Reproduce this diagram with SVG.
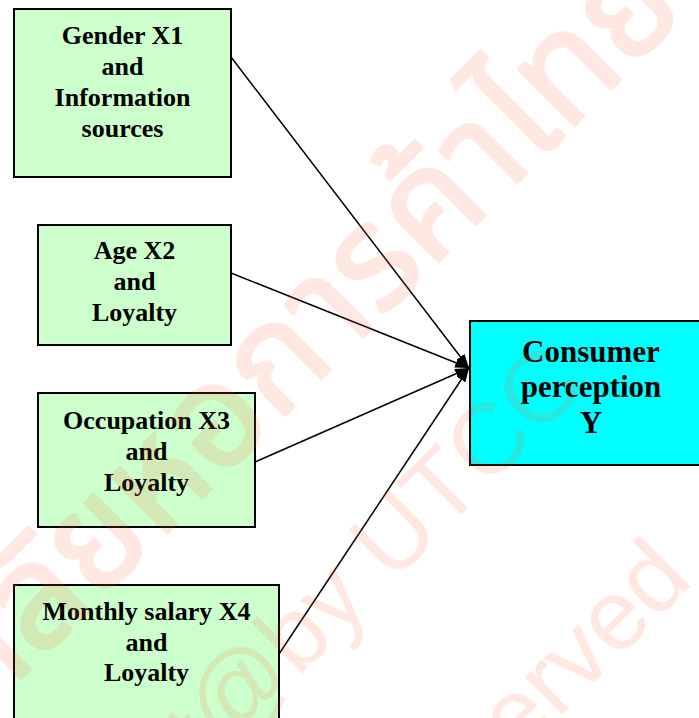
<svg xmlns="http://www.w3.org/2000/svg" width="699" height="718" viewBox="0 0 699 718">
  <style>
    .box { fill: #CCFFCC; stroke: #000; stroke-width: 2; }
    .target { fill: #00FFFF; stroke: #000; stroke-width: 2; }
    .lbl { font-family: "Liberation Serif", "Times New Roman", serif; font-weight: bold; font-size: 26px; fill: #000; text-anchor: middle; }
    .big { font-size: 31px; }
    .edge { stroke: #000; stroke-width: 1.5; fill: none; marker-end: url(#arrow); }
    .wm { fill: #FF6633; font-size: 100px; }
    .thai { font-size: 145px; stroke: #FF6633; stroke-width: 3; stroke-linejoin: round; }
  </style>
  <defs>
    <marker id="arrow" markerUnits="userSpaceOnUse" markerWidth="14" markerHeight="10" refX="14" refY="5" orient="auto">
      <path d="M0,0 L14,5 L0,10 z" fill="#000"/>
    </marker>
  </defs>

  <rect width="699" height="718" fill="#fff"/>

  <!-- connectors -->
  <g id="connectors">
    <line class="edge" x1="231" y1="57" x2="469" y2="368"/>
    <line class="edge" x1="231" y1="273" x2="469" y2="368"/>
    <line class="edge" x1="255" y1="462" x2="469" y2="368"/>
    <line class="edge" x1="279" y1="654" x2="469" y2="368"/>
  </g>

  <g id="x1">
    <rect class="box" x="14" y="9" width="217" height="168"/>
    <text class="lbl" x="122.5" y="43.5">Gender X1</text>
    <text class="lbl" x="122.5" y="74.5">and</text>
    <text class="lbl" x="122.5" y="105.5">Information</text>
    <text class="lbl" x="122.5" y="136.5">sources</text>
  </g>

  <g id="x2">
    <rect class="box" x="38" y="225" width="193" height="120"/>
    <text class="lbl" x="134.5" y="259">Age X2</text>
    <text class="lbl" x="134.5" y="290">and</text>
    <text class="lbl" x="134.5" y="321">Loyalty</text>
  </g>

  <g id="x3">
    <rect class="box" x="38" y="393" width="217" height="134"/>
    <text class="lbl" x="146.5" y="429">Occupation X3</text>
    <text class="lbl" x="146.5" y="460">and</text>
    <text class="lbl" x="146.5" y="491">Loyalty</text>
  </g>

  <g id="x4">
    <rect class="box" x="14" y="585" width="265" height="150"/>
    <text class="lbl" x="146.5" y="620">Monthly salary X4</text>
    <text class="lbl" x="146.5" y="651">and</text>
    <text class="lbl" x="146.5" y="681">Loyalty</text>
  </g>

  <g id="y">
    <rect class="target" x="470" y="321" width="242" height="144"/>
    <text class="lbl big" x="591" y="362">Consumer</text>
    <text class="lbl big" x="591" y="397">perception</text>
    <text class="lbl big" x="591" y="433">Y</text>
  </g>

  <!-- copyright watermark, laid diagonally over the page -->
  <g id="watermark" transform="rotate(-45)" opacity="0.14">
    <text class="wm thai" x="480" y="495" text-anchor="end" font-family="Tahoma, 'Noto Sans Thai', 'DejaVu Sans', sans-serif">ลิขสิทธิ์มหาวิทยาลัยหอการค้าไทย</text>
    <text class="wm" x="142" y="690" text-anchor="end" font-family="'Liberation Sans', Arial, sans-serif">Copyright@by UTCC</text>
    <text class="wm" x="80" y="903" text-anchor="end" font-family="'Liberation Sans', Arial, sans-serif">All rights reserved</text>
  </g>
</svg>
